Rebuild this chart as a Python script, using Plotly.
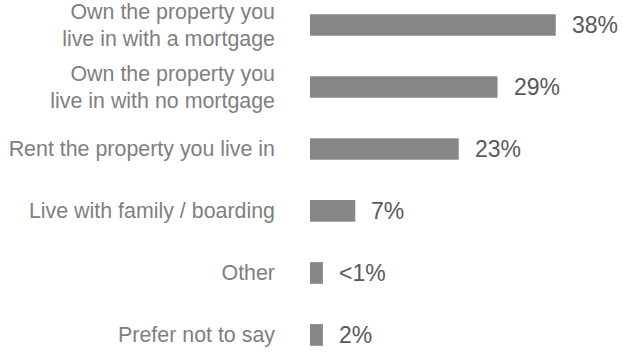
import plotly.graph_objects as go

categories = [
    "Own the property you<br>live in with a mortgage",
    "Own the property you<br>live in with no mortgage",
    "Rent the property you live in",
    "Live with family / boarding",
    "Other",
    "Prefer not to say",
]
values = [38, 29, 23, 7, 2, 2]
value_labels = ["38%", "29%", "23%", "7%", "<1%", "2%"]

pos = list(range(len(categories)))

fig = go.Figure()
fig.add_trace(go.Bar(
    x=values, y=pos, orientation="h",
    marker=dict(color="#878787", line=dict(width=0)),
    hoverinfo="skip",
))

for v, p, t in zip(values, pos, value_labels):
    fig.add_annotation(x=v, y=p, text=t, xanchor="left", yanchor="middle",
                       xshift=14, showarrow=False,
                       font=dict(family="Liberation Sans, Arial", size=23, color="#595959"))

fig.update_layout(
    template="none",
    width=623, height=354,
    margin=dict(l=310, r=0, t=0, b=0, pad=0),
    paper_bgcolor="white", plot_bgcolor="white",
    bargap=0.65, showlegend=False,
    font=dict(family="Liberation Sans, Arial", size=21.4, color="#7f7f7f"),
)
fig.update_xaxes(range=[0, 48.4], visible=False, automargin=False)
fig.update_yaxes(
    range=[5.307, -0.403], tickvals=pos, ticktext=categories,
    showgrid=False, zeroline=False, showline=False, ticks="",
    ticklabelstandoff=34, automargin=False, ticklabeloverflow="allow",
    tickfont=dict(family="Liberation Sans, Arial", size=21.4, color="#7f7f7f"),
)

fig.write_html("out.html",
               config={"displayModeBar": False, "staticPlot": True},
               post_script="document.body.style.margin='0';document.body.style.overflow='hidden';")
